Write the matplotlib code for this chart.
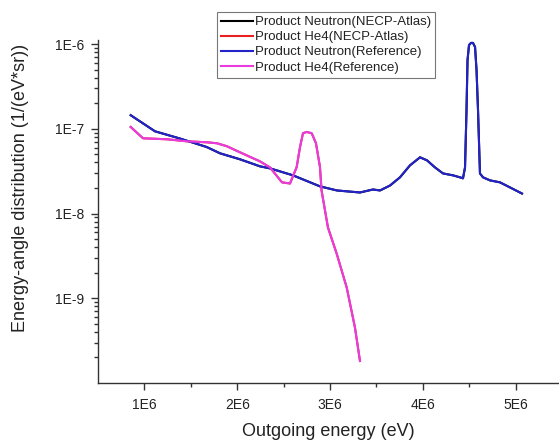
import matplotlib
matplotlib.use("Agg")
import matplotlib.pyplot as plt
from matplotlib.ticker import FixedLocator, LogLocator, NullFormatter

plt.rcParams['font.family'] = ['Liberation Sans', 'DejaVu Sans']

# ---- data (outgoing energy in eV, distribution in 1/(eV*sr)) ----
neutron_energy = [0.852e6, 1.114e6, 1.384e6, 1.671e6, 1.815e6, 2.030e6, 2.246e6, 2.353e6,
                  2.601e6, 2.892e6, 3.075e6, 3.323e6, 3.463e6, 3.539e6, 3.647e6, 3.754e6,
                  3.862e6, 3.970e6, 4.045e6, 4.131e6, 4.218e6, 4.325e6, 4.401e6, 4.433e6,
                  4.455e6, 4.471e6, 4.482e6, 4.498e6, 4.519e6, 4.541e6, 4.563e6, 4.579e6,
                  4.595e6, 4.616e6, 4.649e6, 4.724e6, 4.832e6, 4.940e6, 5.069e6]
neutron_ref = [1.445e-7, 9.33e-8, 7.66e-8, 6.09e-8, 5.13e-8, 4.36e-8, 3.60e-8, 3.41e-8,
               2.82e-8, 2.09e-8, 1.87e-8, 1.77e-8, 1.92e-8, 1.87e-8, 2.14e-8, 2.67e-8,
               3.70e-8, 4.60e-8, 4.24e-8, 3.50e-8, 2.97e-8, 2.82e-8, 2.67e-8, 2.60e-8,
               3.50e-8, 1.66e-7, 6.47e-7, 9.7e-7, 1.03e-6, 1.03e-6, 9.2e-7, 4.92e-7,
               1.66e-7, 2.97e-8, 2.67e-8, 2.46e-8, 2.33e-8, 2.03e-8, 1.72e-8]
neutron_atlas = [1.445e-7, 9.33e-8, 7.66e-8, 6.09e-8, 5.13e-8, 4.36e-8, 3.60e-8, 3.41e-8,
                 2.82e-8, 2.09e-8, 1.87e-8, 1.77e-8, 1.92e-8, 1.87e-8, 2.14e-8, 2.67e-8,
                 3.70e-8, 4.60e-8, 4.24e-8, 3.50e-8, 2.97e-8, 2.82e-8, 2.67e-8, 2.60e-8,
                 3.50e-8, 1.66e-7, 6.47e-7, 9.7e-7, 1.03e-6, 1.03e-6, 9.2e-7, 4.92e-7,
                 1.66e-7, 2.97e-8, 2.67e-8, 2.46e-8, 2.33e-8, 2.03e-8, 1.72e-8]

he4_energy = [0.852e6, 0.985e6, 1.244e6, 1.459e6, 1.675e6, 1.782e6, 1.890e6, 2.030e6,
              2.246e6, 2.353e6, 2.483e6, 2.569e6, 2.641e6, 2.677e6, 2.709e6, 2.749e6,
              2.803e6, 2.849e6, 2.892e6, 2.909e6, 2.946e6, 2.978e6, 3.072e6, 3.180e6,
              3.269e6, 3.323e6]
he4_ref = [1.05e-7, 7.72e-8, 7.51e-8, 7.11e-8, 6.92e-8, 6.74e-8, 6.21e-8, 5.27e-8,
           4.12e-8, 3.50e-8, 2.33e-8, 2.26e-8, 3.53e-8, 6.09e-8, 8.85e-8, 9.17e-8,
           8.85e-8, 6.74e-8, 3.53e-8, 1.87e-8, 1.09e-8, 6.83e-9, 3.36e-9, 1.34e-9,
           4.51e-10, 1.82e-10]
he4_atlas = [1.05e-7, 7.72e-8, 7.51e-8, 7.11e-8, 6.92e-8, 6.74e-8, 6.21e-8, 5.27e-8,
             4.12e-8, 3.50e-8, 2.33e-8, 2.26e-8, 3.53e-8, 6.09e-8, 8.85e-8, 9.17e-8,
             8.85e-8, 6.74e-8, 3.53e-8, 1.87e-8, 1.09e-8, 6.83e-9, 3.36e-9, 1.34e-9,
             4.51e-10, 1.82e-10]

x_ticks = [1e6, 2e6, 3e6, 4e6, 5e6]
x_tick_labels = ["1E6", "2E6", "3E6", "4E6", "5E6"]
y_ticks = [1e-9, 1e-8, 1e-7, 1e-6]
y_tick_labels = ["1E-9", "1E-8", "1E-7", "1E-6"]

labels = ["Product Neutron(NECP-Atlas)", "Product He4(NECP-Atlas)",
          "Product Neutron(Reference)", "Product He4(Reference)"]
colors = ["#000000", "#e82020", "#2323c8", "#e83ce0"]

# ---- figure ----
fig = plt.figure(figsize=(5.59, 4.41), dpi=100)
ax = fig.add_axes([98 / 559, 1 - 383 / 441, 1 - 98 / 559, (383 - 40) / 441])

lw = 1.5
ax.plot(neutron_energy, neutron_atlas, color=colors[0], lw=lw, label=labels[0])
ax.plot(he4_energy, he4_atlas, color=colors[1], lw=lw, label=labels[1])
ax.plot(neutron_energy, neutron_ref, color=colors[2], lw=lw, label=labels[2])
ax.plot(he4_energy, he4_ref, color=colors[3], lw=lw, label=labels[3])

ax.set_yscale('log')
ax.set_xlim(0.5e6, 0.5e6 + 461 / 92.8 * 1e6)
ax.set_ylim(1e-10, 10 ** (-6 + 4 / 84.75))

ax.xaxis.set_major_locator(FixedLocator(x_ticks))
ax.set_xticklabels(x_tick_labels)
ax.xaxis.set_minor_locator(FixedLocator([1.5e6, 2.5e6, 3.5e6, 4.5e6]))
ax.yaxis.set_major_locator(FixedLocator(y_ticks))
ax.set_yticklabels(y_tick_labels)
ax.yaxis.set_minor_locator(LogLocator(base=10, subs=range(2, 10), numticks=20))
ax.yaxis.set_minor_formatter(NullFormatter())

for s in ['top', 'right']:
    ax.spines[s].set_visible(False)
for s in ['left', 'bottom']:
    ax.spines[s].set_linewidth(1.0)
    ax.spines[s].set_color('#333333')

ax.tick_params(axis='both', which='major', direction='out', length=5, width=1,
               labelsize=10, colors='#333333', labelcolor='#222222')
ax.tick_params(axis='both', which='minor', direction='out', length=3, width=1,
               colors='#333333')
ax.tick_params(axis='x', which='major', pad=6)
ax.tick_params(axis='y', which='major', pad=5)

ax.set_xlabel("Outgoing energy (eV)", fontsize=13, color='#222222', labelpad=8)
ax.set_ylabel("Energy-angle distribution (1/(eV*sr))", fontsize=13, color='#222222')
ax.yaxis.set_label_coords(-0.15, 0.569)

leg = fig.legend(loc='upper left', bbox_to_anchor=(217 / 559, 1 - 12 / 441),
                 bbox_transform=fig.transFigure, fontsize=9.5, frameon=True,
                 fancybox=False, edgecolor='#555555', borderaxespad=0,
                 handlelength=2.4, handletextpad=0.2, labelspacing=0.22,
                 borderpad=0.3)
leg.get_frame().set_linewidth(0.8)
for t in leg.get_texts():
    t.set_color('#222222')

fig.savefig("out.png", dpi=100)
